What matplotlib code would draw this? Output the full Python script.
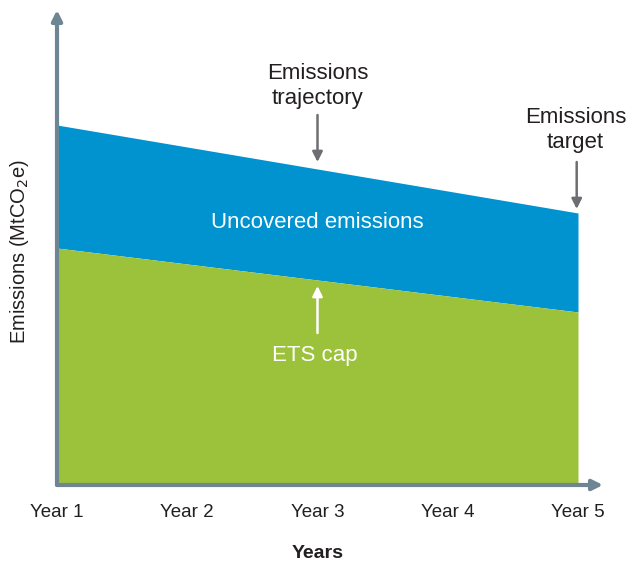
import matplotlib
matplotlib.use("Agg")
import matplotlib.pyplot as plt

plt.rcParams['font.family'] = ['Liberation Sans', 'DejaVu Sans']

years = [1, 2, 3, 4, 5]
year_labels = ["Year 1", "Year 2", "Year 3", "Year 4", "Year 5"]
trajectory_ends = [360, 272]   # emissions trajectory at Year 1 and Year 5
cap_ends = [237, 173]          # ETS cap at Year 1 and Year 5

blue = "#0093d0"
green = "#9cc23b"
axis_col = "#6e8594"
arrow_col = "#6d6e71"
txt_col = "#231f20"

fig = plt.figure(figsize=(6.32, 5.63), dpi=100)
ax = fig.add_axes([57 / 632, 78 / 563, 546 / 632, 475 / 563])
ax.set_xlim(1, 5 + 25 / 130.25)
ax.set_ylim(0, 475)

x_ends = [years[0], years[-1]]
ax.fill_between(x_ends, cap_ends, trajectory_ends, color=blue, lw=0)
ax.fill_between(x_ends, 0, cap_ends, color=green, lw=0)

for s in ax.spines.values():
    s.set_visible(False)
ax.set_xticks(years)
ax.set_xticklabels(year_labels, fontsize=13.5, color=txt_col)
ax.tick_params(axis='x', length=0, pad=14)
ax.set_yticks([])

# axis lines with arrow heads
ax.annotate("", xy=(0, 1), xytext=(0, 0), xycoords='axes fraction',
            arrowprops=dict(arrowstyle="-|>,head_length=0.6,head_width=0.3",
                            color=axis_col, lw=3, shrinkA=0, shrinkB=0))
ax.annotate("", xy=(1, 0), xytext=(0, 0), xycoords='axes fraction',
            arrowprops=dict(arrowstyle="-|>,head_length=0.6,head_width=0.3",
                            color=axis_col, lw=3, shrinkA=0, shrinkB=0))

ax.text(3, 399, "Emissions\ntrajectory", ha='center', va='center',
        fontsize=16, color=txt_col, linespacing=1.2)
ax.annotate("", xy=(3, 323), xytext=(3, 370),
            arrowprops=dict(arrowstyle="-|>,head_length=0.6,head_width=0.3",
                            color=arrow_col, lw=1.8, shrinkA=0, shrinkB=0))

ax.text(4.98, 355, "Emissions\ntarget", ha='center', va='center',
        fontsize=16, color=txt_col, linespacing=1.2)
ax.annotate("", xy=(4.99, 276), xytext=(4.99, 323),
            arrowprops=dict(arrowstyle="-|>,head_length=0.6,head_width=0.3",
                            color=arrow_col, lw=1.8, shrinkA=0, shrinkB=0))

ax.text(3, 263, "Uncovered emissions", ha='center', va='center',
        fontsize=16, color='white')
ax.text(2.98, 130, "ETS cap", ha='center', va='center',
        fontsize=16, color='white')
ax.annotate("", xy=(3, 199), xytext=(3, 152),
            arrowprops=dict(arrowstyle="-|>,head_length=0.6,head_width=0.3",
                            color='white', lw=1.8, shrinkA=0, shrinkB=0))

fig.text(318 / 632, 1 - 553 / 563, "Years", ha='center', va='center',
         fontsize=14, fontweight='bold', color=txt_col)
fig.text(20 / 632, 1 - 252 / 563, "Emissions (MtCO$_2$e)", ha='center', va='center',
         rotation=90, fontsize=14.5, color=txt_col)

fig.savefig("out.png", dpi=100)
